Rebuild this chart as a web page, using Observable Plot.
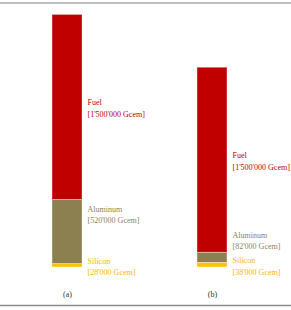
<!DOCTYPE html>
<html>
<head>
<meta charset="utf-8">
<script src="https://cdn.jsdelivr.net/npm/d3@7"></script>
<script src="https://cdn.jsdelivr.net/npm/@observablehq/plot@0.6"></script>
<style>
  html, body { margin: 0; padding: 0; background: #fff; }
  #chart svg { display: block; }
</style>
</head>
<body>
<div id="chart"></div>
<script>
// Data (stack order: bottom to top)
const bars = ["(a)", "(b)"];
const materials = ["Silicon", "Aluminum", "Fuel"];
const silicon = [28000, 38000];
const aluminum = [520000, 82000];
const fuel = [1500000, 1500000];
const unit = "Gcem";
const fillColors = ["#ffc000", "#8c8050", "#c00000"];
const textColors = ["#f5b800", "#8a8262", "#c00000"];

const seriesByMaterial = {Silicon: silicon, Aluminum: aluminum, Fuel: fuel};
const fmt = v => d3.format(",")(v).replace(/,/g, "'");

const rows = [];
bars.forEach((b, i) => {
  let acc = 0;
  materials.forEach(m => {
    const v = seriesByMaterial[m][i];
    rows.push({bar: b, material: m, value: v, y1: acc, y2: acc + v, mid: acc + v / 2,
               label: `${m}\n[${fmt(v)} ${unit}]`});
    acc += v;
  });
});

const W = 291, H = 310;
const chart = Plot.plot({
  width: W,
  height: H,
  marginLeft: 0,
  marginRight: 12,
  marginTop: 8,
  marginBottom: 43,
  style: {fontFamily: "'Liberation Serif', 'DejaVu Serif', serif", fontSize: "8px", background: "#fff"},
  x: {domain: bars, paddingInner: 0.7931, paddingOuter: 0.3586, label: null},
  y: {domain: [0, 2100000], axis: null},
  color: {domain: materials, range: fillColors},
  marks: [
    Plot.rectY(rows, {x: "bar", y1: "y1", y2: "y2", fill: "material", stroke: "#fff", strokeWidth: 0.6, strokeOpacity: 0.6}),
    Plot.text(rows.filter(d => d.material !== "Aluminum"), {
      x: "bar", y: "mid", text: "label", textAnchor: "start", lineAnchor: "middle",
      lineHeight: 1.45, dx: 20, fill: d => textColors[materials.indexOf(d.material)]
    }),
    Plot.text(rows.filter(d => d.material === "Aluminum"), {
      x: "bar", y: "mid", text: "label", textAnchor: "start", lineAnchor: "middle",
      lineHeight: 1.45, dx: 20, dy: -18, fill: d => textColors[materials.indexOf(d.material)]
    }),
    Plot.axisX({tickSize: 0, tickPadding: 24, fill: "#333", fontSize: 8, label: null})
  ]
});

// decorative horizontal rules framing the figure
const svg = d3.select(chart);
svg.append("line").attr("x1", 0).attr("x2", W).attr("y1", 3).attr("y2", 3)
  .attr("stroke", "#a8a8a8").attr("stroke-width", 1.5);
svg.append("line").attr("x1", 0).attr("x2", W).attr("y1", 305.5).attr("y2", 305.5)
  .attr("stroke", "#8a8a8a").attr("stroke-width", 1.5);

document.getElementById("chart").append(chart);
</script>
</body>
</html>
